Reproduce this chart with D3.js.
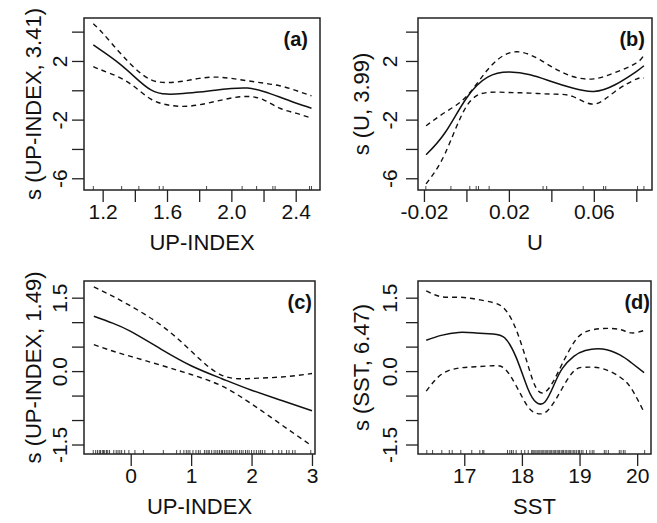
<!DOCTYPE html>
<html>
<head>
<meta charset="utf-8">
<script src="https://cdn.jsdelivr.net/npm/d3@7"></script>
<style>
  body { margin: 0; background: #fff; }
  svg text { font-family: "Liberation Sans", Arial, Helvetica, sans-serif; fill: #111; }
</style>
</head>
<body>
<div id="chart"></div>
<script>
// (a) s(UP-INDEX, 3.41)
const aX     = [1.142, 1.2, 1.3, 1.4, 1.5, 1.6, 1.7, 1.8, 1.9, 2.0, 2.1, 2.2, 2.3, 2.4, 2.498];
const aFit   = [3.10, 2.65, 1.85, 0.90, 0.03, -0.26, -0.22, -0.12, 0.01, 0.12, 0.15, -0.08, -0.46, -0.87, -1.22];
const aUpper = [4.54, 3.90, 2.65, 1.51, 0.72, 0.53, 0.62, 0.81, 0.90, 0.81, 0.65, 0.49, 0.31, -0.01, -0.38];
const aLower = [1.62, 1.35, 0.90, 0.22, -0.60, -0.99, -1.10, -0.99, -0.76, -0.53, -0.42, -0.65, -1.22, -1.56, -1.90];
const aRug   = [1.142, 1.318, 1.425, 1.552, 1.576, 1.846, 2.067, 2.157, 2.258, 2.272, 2.486, 2.498];

// (b) s(U, 3.99)
const bX     = [-0.019, -0.01, 0, 0.01, 0.02, 0.03, 0.04, 0.05, 0.06, 0.07, 0.08, 0.0836];
const bFit   = [-4.40, -2.88, -0.54, 0.90, 1.24, 1.06, 0.60, 0.15, -0.08, 0.38, 1.28, 1.67];
const bUpper = [-2.42, -1.50, -0.42, 1.40, 2.54, 2.42, 1.62, 0.94, 0.78, 1.21, 1.86, 2.42];
const bLower = [-6.38, -4.30, -1.10, -0.15, -0.15, -0.19, -0.26, -0.42, -0.94, -0.08, 0.76, 0.83];
const bRug   = [-0.0191, -0.0073, 0.0016, 0.0046, 0.0057, 0.0107, 0.0361, 0.0378, 0.055, 0.0646, 0.0656, 0.0806, 0.0836];

// (c) s(UP-INDEX, 1.49)
const cX     = [-0.61, -0.3, 0, 0.5, 1, 1.5, 2, 2.5, 3];
const cFit   = [1.12, 0.98, 0.81, 0.45, 0.11, -0.15, -0.39, -0.60, -0.81];
const cUpper = [1.72, 1.53, 1.33, 0.94, 0.41, -0.08, -0.15, -0.12, -0.05];
const cLower = [0.54, 0.41, 0.30, 0.12, -0.07, -0.30, -0.67, -1.10, -1.53];
const cRug   = [-0.62, -0.58, -0.55, -0.52, -0.5, -0.47, -0.45, -0.43, -0.4, -0.38, -0.35, -0.28, -0.24, -0.21,
                -0.18, -0.15, -0.1, -0.03, 0.07, 0.21, 0.54, 0.76, 0.82, 0.88, 0.92, 0.95, 0.98, 1.03, 1.08, 1.12,
                1.15, 1.22, 1.25, 1.28, 1.3, 1.34, 1.38, 1.41, 1.44, 1.47, 1.5, 1.52, 1.55, 1.58, 1.61, 1.64, 1.67,
                1.7, 1.73, 1.76, 1.8, 1.83, 1.86, 1.9, 1.93, 1.96, 2.0, 2.04, 2.08, 2.12, 2.15, 2.18, 2.22, 2.35,
                2.45, 2.5, 2.58, 2.62, 2.68, 2.72, 2.98];

// (d) s(SST, 6.47)
const dX     = [16.34, 16.6, 16.9, 17.2, 17.5, 17.7, 17.9, 18.1, 18.25, 18.4, 18.55, 18.7, 18.9, 19.1, 19.4, 19.7, 19.9, 20.12];
const dFit   = [0.63, 0.73, 0.79, 0.78, 0.76, 0.68, 0.28, -0.35, -0.64, -0.63, -0.30, 0.05, 0.30, 0.42, 0.45, 0.33, 0.17, -0.03];
const dUpper = [1.64, 1.52, 1.51, 1.47, 1.40, 1.27, 0.85, 0.14, -0.35, -0.43, -0.20, 0.15, 0.58, 0.80, 0.87, 0.85, 0.78, 0.83];
const dLower = [-0.41, -0.07, 0.06, 0.09, 0.11, 0.05, -0.30, -0.72, -0.86, -0.85, -0.65, -0.35, 0.00, 0.08, 0.05, -0.12, -0.36, -0.84];
const dRug   = [16.35, 16.45, 16.61, 16.74, 16.79, 16.94, 17.13, 17.27, 17.32, 17.34, 17.75, 17.79, 17.82, 17.85, 17.9,
                17.99, 18.05, 18.11, 18.17, 18.19, 18.21, 18.23, 18.26, 18.28, 18.3, 18.33, 18.35, 18.37, 18.4, 18.42,
                18.44, 18.47, 18.49, 18.51, 18.54, 18.56, 18.58, 18.61, 18.63, 18.65, 18.68, 18.7, 18.72, 18.75,
                18.77, 18.8, 18.82, 18.84, 18.87, 18.9, 18.92, 18.95, 18.98, 19.0, 19.03, 19.06, 19.12, 19.18,
                19.22, 19.25, 19.43, 19.46, 19.5, 19.69, 19.72, 19.76, 19.79, 20.13];

// ticks
const aXTicks = [1.2, 1.4, 1.6, 1.8, 2.0, 2.2, 2.4];
const aXLabels = ["1.2", "", "1.6", "", "2.0", "", "2.4"];
const bXTicks = [-0.02, 0, 0.02, 0.04, 0.06, 0.08];
const bXLabels = ["-0.02", "", "0.02", "", "0.06", ""];
const cXTicks = [0, 1, 2, 3];
const cXLabels = ["0", "1", "2", "3"];
const dXTicks = [17, 18, 19, 20];
const dXLabels = ["17", "18", "19", "20"];
const topYTicks = [4, 2, 0, -2, -4, -6];
const topYLabels = ["", "2", "", "-2", "", "-6"];
const botYTicks = [1.5, 1.0, 0.5, 0.0, -0.5, -1.0, -1.5];
const botYLabels = ["1.5", "", "", "0.0", "", "", "-1.5"];

const width = 657, height = 523;

const svg = d3.select("#chart")
  .append("svg")
  .attr("width", width)
  .attr("height", height);

svg.append("rect").attr("width", width).attr("height", height).attr("fill", "#fff");

const panels = [
  { tag: "(a)", x: aX, fit: aFit, upper: aUpper, lower: aLower, rug: aRug,
    xTicks: aXTicks, xLabels: aXLabels, yTicks: topYTicks, yLabels: topYLabels,
    xTitle: "UP-INDEX", yTitle: "s (UP-INDEX, 3.41)",
    xDomain: [1.084, 2.551], yDomain: [-6.80, 4.93],
    box: [84, 18, 320, 190], tagX: 308, yTickOff: 17, yTitleOff: 43 },
  { tag: "(b)", x: bX, fit: bFit, upper: bUpper, lower: bLower, rug: bRug,
    xTicks: bXTicks, xLabels: bXLabels, yTicks: topYTicks, yLabels: topYLabels,
    xTitle: "U", yTitle: "s (U, 3.99)",
    xDomain: [-0.0228, 0.0874], yDomain: [-6.80, 4.93],
    box: [418, 18, 652, 190], tagX: 645, yTickOff: 21, yTitleOff: 49 },
  { tag: "(c)", x: cX, fit: cFit, upper: cUpper, lower: cLower, rug: cRug,
    xTicks: cXTicks, xLabels: cXLabels, yTicks: botYTicks, yLabels: botYLabels,
    xTitle: "UP-INDEX", yTitle: "s (UP-INDEX, 1.49)",
    xDomain: [-0.773, 3.05], yDomain: [-1.694, 1.841],
    box: [84, 281, 315, 454], tagX: 312, yTickOff: 17, yTitleOff: 43 },
  { tag: "(d)", x: dX, fit: dFit, upper: dUpper, lower: dLower, rug: dRug,
    xTicks: dXTicks, xLabels: dXLabels, yTicks: botYTicks, yLabels: botYLabels,
    xTitle: "SST", yTitle: "s (SST, 6.47)",
    xDomain: [16.197, 20.24], yDomain: [-1.694, 1.841],
    box: [418, 281, 651, 454], tagX: 650, yTickOff: 21, yTitleOff: 49 }
];

const tickFont = 21;
const titleFont = 22;

panels.forEach(p => {
  const [left, top, right, bottom] = p.box;
  const x = d3.scaleLinear().domain(p.xDomain).range([left, right]);
  const y = d3.scaleLinear().domain(p.yDomain).range([bottom, top]);
  const g = svg.append("g");

  // x axis
  const gx = g.append("g")
    .attr("transform", `translate(0,${bottom})`)
    .call(d3.axisBottom(x).tickValues(p.xTicks).tickSize(12).tickPadding(2)
      .tickFormat((d, i) => p.xLabels[i]));
  gx.select(".domain").remove();
  gx.selectAll("line").attr("stroke", "#222").attr("stroke-width", 1.3);
  gx.selectAll("text").attr("font-size", tickFont).attr("font-family", null);

  // y axis with rotated labels
  const gy = g.append("g")
    .attr("transform", `translate(${left},0)`)
    .call(d3.axisLeft(y).tickValues(p.yTicks).tickSize(12)
      .tickFormat((d, i) => p.yLabels[i]));
  gy.select(".domain").remove();
  gy.selectAll("line").attr("stroke", "#222").attr("stroke-width", 1.3);
  gy.selectAll("text")
    .attr("font-size", tickFont)
    .attr("font-family", null)
    .attr("x", null).attr("dy", null)
    .attr("text-anchor", "middle")
    .attr("transform", `translate(${-p.yTickOff},0) rotate(-90)`);

  // rug
  g.append("g").selectAll("line")
    .data(p.rug)
    .join("line")
    .attr("x1", d => x(d)).attr("x2", d => x(d))
    .attr("y1", bottom).attr("y2", bottom - 4)
    .attr("stroke", "#333")
    .attr("stroke-width", 0.9);

  const pts = arr => p.x.map((v, i) => [v, arr[i]]);
  const line = d3.line()
    .x(d => x(d[0]))
    .y(d => y(d[1]))
    .curve(d3.curveNatural);

  g.append("path").attr("d", line(pts(p.upper)))
    .attr("fill", "none").attr("stroke", "#111").attr("stroke-width", 1.4)
    .attr("stroke-dasharray", "5,4");
  g.append("path").attr("d", line(pts(p.lower)))
    .attr("fill", "none").attr("stroke", "#111").attr("stroke-width", 1.4)
    .attr("stroke-dasharray", "5,4");
  g.append("path").attr("d", line(pts(p.fit)))
    .attr("fill", "none").attr("stroke", "#111").attr("stroke-width", 1.5);

  // box
  g.append("rect")
    .attr("x", left).attr("y", top)
    .attr("width", right - left).attr("height", bottom - top)
    .attr("fill", "none").attr("stroke", "#222").attr("stroke-width", 1.5);

  // titles
  g.append("text")
    .attr("x", (left + right) / 2).attr("y", bottom + 60)
    .attr("text-anchor", "middle").attr("font-size", titleFont)
    .text(p.xTitle);
  g.append("text")
    .attr("transform", `translate(${left - p.yTitleOff},${(top + bottom) / 2}) rotate(-90)`)
    .attr("text-anchor", "middle").attr("font-size", titleFont)
    .text(p.yTitle);
  g.append("text")
    .attr("x", p.tagX).attr("y", top + 28)
    .attr("text-anchor", "end").attr("font-size", 20).attr("font-weight", "bold")
    .text(p.tag);
});
</script>
</body>
</html>
